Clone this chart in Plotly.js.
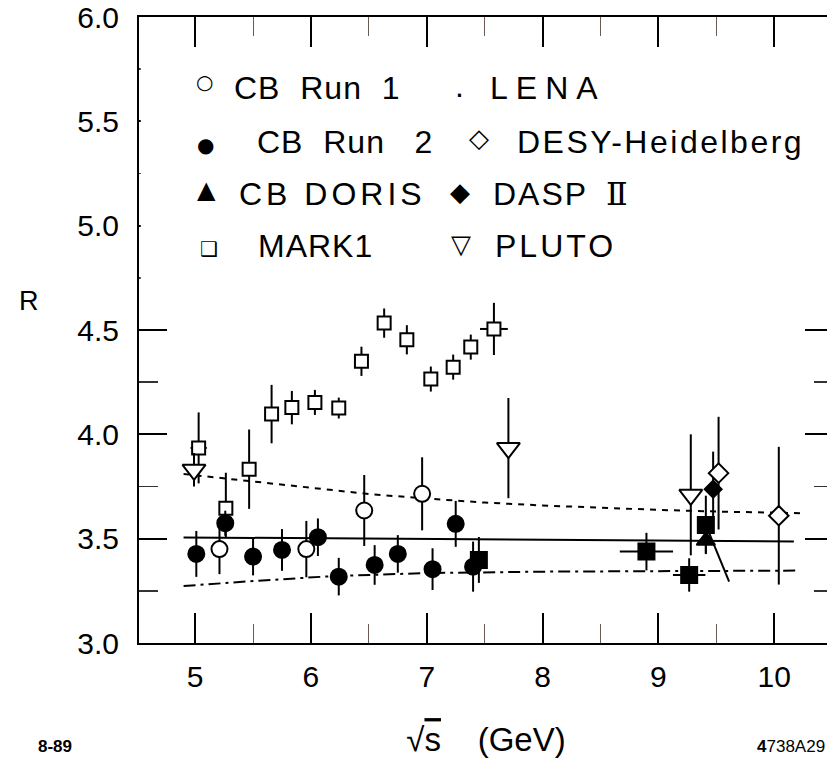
<!DOCTYPE html>
<html>
<head>
<meta charset="utf-8">
<script src="https://cdn.plot.ly/plotly-3.0.1.min.js"></script>
<style>
  html, body { margin: 0; padding: 0; background: #fff; }
  #frame { width: 827px; height: 759px; overflow: hidden; }
  #chart { width: 860px; height: 759px; }
</style>
</head>
<body>
<div id="frame"><div id="chart"></div></div>
<script>
// R = sigma(e+e- -> hadrons) / sigma(mu mu) versus sqrt(s)

// Crystal Ball, run 1 (open circles)
const cb1X = [5.21, 5.96, 6.46, 6.96];
const cb1Y = [3.45, 3.45, 3.635, 3.715];
const cb1Err = [0.12, 0.135, 0.17, 0.175];

// Crystal Ball, run 2 (filled circles)
const cb2X = [5.01, 5.26, 5.50, 5.75, 6.06, 6.24, 6.55, 6.75, 7.05, 7.25, 7.40];
const cb2Y = [3.427, 3.574, 3.414, 3.446, 3.507, 3.318, 3.374, 3.427, 3.354, 3.571, 3.366];
const cb2Err = [0.11, 0.06, 0.09, 0.10, 0.09, 0.09, 0.095, 0.09, 0.10, 0.11, 0.12];

// Crystal Ball at DORIS (filled triangle)
const dorisX = [9.41];
const dorisY = [3.49];
const dorisErr = [0.06];

// MARK I (open squares)
const mark1X = [5.03, 5.265, 5.466, 5.66, 5.835, 6.034, 6.24, 6.436, 6.632, 6.828, 7.035, 7.228, 7.38, 7.58];
const mark1Y = [3.935, 3.646, 3.833, 4.097, 4.128, 4.153, 4.126, 4.35, 4.533, 4.453, 4.265, 4.322, 4.418, 4.505];
const mark1ErrUp = [0.17, 0.17, 0.19, 0.14, 0.08, 0.06, 0.05, 0.07, 0.07, 0.07, 0.06, 0.06, 0.06, 0.125];
const mark1ErrDown = [0.17, 0.14, 0.19, 0.14, 0.08, 0.06, 0.05, 0.07, 0.07, 0.07, 0.06, 0.06, 0.06, 0.125];
const mark1BinHalf = [0.07, 0, 0, 0, 0, 0, 0, 0, 0, 0, 0, 0, 0, 0.12];

// LENA (filled squares)
const lenaX = [7.45, 8.897, 9.266, 9.41];
const lenaY = [3.398, 3.438, 3.326, 3.566];
const lenaErr = [0.11, 0.09, 0.08, 0.14];
const lenaBinHalf = [0, 0.23, 0.14, 0];

// DESY-Heidelberg (open diamonds)
const desyX = [9.52, 10.04];
const desyY = [3.814, 3.61];
const desyErr = [0.27, 0.33];

// DASP II (filled diamond)
const daspX = [9.473];
const daspY = [3.737];
const daspErr = [0.18];

// PLUTO (open down-triangles)
const plutoX = [4.99, 7.705, 9.28];
const plutoY = [3.83, 3.934, 3.71];
const plutoErr = [0.08, 0.24, 0.29];

// Reference curves
const qcdDotX = [4.9, 5.5, 6.0, 6.5, 7.0, 7.5, 8.0, 8.5, 9.0, 9.5, 10.25];
const qcdDotY = [3.81, 3.775, 3.745, 3.714, 3.692, 3.673, 3.659, 3.647, 3.638, 3.630, 3.622];
const solidX = [4.9, 10.17];
const solidY = [3.506, 3.487];
const dashDotX = [4.9, 5.5, 6.2, 7.0, 8.0, 9.0, 10.22];
const dashDotY = [3.273, 3.297, 3.321, 3.335, 3.342, 3.345, 3.347];
const slopeX = [9.439, 9.611];
const slopeY = [3.526, 3.294];

// Axis ticks
const xTickVals = [5, 6, 7, 8, 9, 10];
const yTickVals = [3.0, 3.5, 4.0, 4.5, 5.0, 5.5, 6.0];

const INK = '#000';

function errBars(up, down) {
  const e = {type: 'data', array: up, visible: true, color: INK, thickness: 2, width: 0};
  if (down) { e.symmetric = false; e.arrayminus = down; }
  return e;
}

function points(name, x, y, symbol, size, fill, ey, ex) {
  const t = {
    type: 'scatter', mode: 'markers', name: name, x: x, y: y,
    marker: {symbol: symbol, size: size, color: fill, line: {color: INK, width: 2}},
    error_y: ey, showlegend: false, cliponaxis: false
  };
  if (ex) t.error_x = ex;
  return t;
}

function curve(name, x, y, dash) {
  return {type: 'scatter', mode: 'lines', name: name, x: x, y: y,
          line: {color: INK, width: 2, dash: dash}, showlegend: false};
}

const traces = [
  curve('dotted', qcdDotX, qcdDotY, '6px,6px'),
  curve('solid', solidX, solidY, 'solid'),
  curve('dash-dot', dashDotX, dashDotY, '12px,5px,3px,5px'),
  curve('slope', slopeX, slopeY, 'solid'),
  points('MARK1', mark1X, mark1Y, 'square', 13, '#fff', errBars(mark1ErrUp, mark1ErrDown), errBars(mark1BinHalf)),
  points('PLUTO', plutoX, plutoY, 'triangle-down', 20, '#fff', errBars(plutoErr)),
  points('CB Run 1', cb1X, cb1Y, 'circle', 16, '#fff', errBars(cb1Err)),
  points('CB Run 2', cb2X, cb2Y, 'circle', 16, INK, errBars(cb2Err)),
  points('LENA', lenaX, lenaY, 'square', 16, INK, errBars(lenaErr), errBars(lenaBinHalf)),
  points('CB DORIS', dorisX, dorisY, 'triangle-up', 16, INK, errBars(dorisErr)),
  points('DASP II', daspX, daspY, 'diamond', 13, INK, errBars(daspErr)),
  points('DESY-Heidelberg', desyX, desyY, 'diamond', 15, '#fff', errBars(desyErr))
];

// Plot-area geometry in pixels, used to place the key and the footnotes
const M = {l: 139, r: 27, t: 17, b: 116};
const FIG_W = 860, FIG_H = 759;
const PW = FIG_W - M.l - M.r, PH = FIG_H - M.t - M.b;
const px = v => (v - M.l) / PW;
const py = v => (M.t + PH - v) / PH;

const KEY_FONT = {family: 'Liberation Sans, Arial, sans-serif', size: 32, color: INK};
const SYM_FONT = {family: 'DejaVu Sans, sans-serif', size: 22, color: INK};

function label(text, x, y, font, anchor) {
  return {text: text, xref: 'paper', yref: 'paper', x: px(x), y: py(y),
          xanchor: anchor || 'left', yanchor: 'middle', showarrow: false, font: font};
}
const sp = n => '\u00a0'.repeat(n);
const spaced = (s, ls) => '<span style="letter-spacing:' + ls + 'px">' + s + '</span>';
const roman2 = '<span style="font-family:\'DejaVu Serif\', serif">\u2161</span>';

const annotations = [
  // key, left column
  label('\u25CB', 204, 82, Object.assign({}, SYM_FONT, {size: 20}), 'center'),
  label(spaced('CB' + sp(2) + 'Run' + sp(2) + '1', 1), 232, 88, KEY_FONT),
  label('\u25CF', 205, 145, Object.assign({}, SYM_FONT, {size: 20}), 'center'),
  label(spaced('CB' + sp(2) + 'Run' + sp(3) + '2', 1), 255, 142, KEY_FONT),
  label('\u25B2', 206, 190, Object.assign({}, SYM_FONT, {size: 24}), 'center'),
  label(spaced('CB' + sp(1) + 'DORIS', 4), 237, 194, KEY_FONT),
  label('\u2751', 209, 249, Object.assign({}, SYM_FONT, {size: 20}), 'center'),
  label(spaced('MARK1', 1), 256, 246, KEY_FONT),
  // key, right column
  label('.', 459, 86, KEY_FONT, 'center'),
  label(spaced('LENA', 8), 488, 88, KEY_FONT),
  label('\u25C7', 479, 138, Object.assign({}, SYM_FONT, {size: 26}), 'center'),
  label(spaced('DESY-Heidelberg', 2.5), 515, 142, KEY_FONT),
  label('\u25C6', 460, 192, Object.assign({}, SYM_FONT, {size: 26}), 'center'),
  label(spaced('DASP', 2) + sp(2) + roman2, 491, 194, KEY_FONT),
  label('\u25BD', 461, 244, Object.assign({}, SYM_FONT, {size: 26}), 'center'),
  label(spaced('PLUTO', 3), 493, 246, KEY_FONT),
  // axis name and footnotes
  label('R', 29, 301, {family: 'Liberation Sans, Arial, sans-serif', size: 27, color: INK}, 'center'),
  label('<b>8-89</b>', 55, 746, {family: 'Liberation Sans Narrow, Liberation Sans, sans-serif', size: 17, color: INK}, 'center'),
  label('<b>4</b>738A29', 755, 746, {family: 'Liberation Sans Narrow, Liberation Sans, sans-serif', size: 17, color: INK})
];

const layout = {
  width: FIG_W, height: FIG_H,
  margin: M,
  paper_bgcolor: '#fff', plot_bgcolor: '#fff',
  showlegend: false,
  xaxis: {
    range: [4.515, 4.515 + PW / 115.8],
    tickmode: 'array', tickvals: xTickVals,
    ticks: 'inside', ticklen: 30, tickwidth: 2, tickcolor: INK,
    minor: {dtick: 0.5, tick0: 4.5, ticks: 'inside', ticklen: 19, tickwidth: 1, tickcolor: '#6b5a55'},
    showline: true, linewidth: 2, linecolor: INK, mirror: 'ticks',
    showgrid: false, zeroline: false,
    tickfont: {family: 'Liberation Sans, Arial, sans-serif', size: 30, color: INK},
    ticklabelstandoff: 6,
    title: {
      text: '\u221A<span style="text-decoration:overline">s</span>' + sp(4) + '(GeV)',
      font: {family: 'Liberation Sans, Arial, sans-serif', size: 33, color: INK},
      standoff: 36
    },
    automargin: false
  },
  yaxis: {
    range: [3, 6],
    tickmode: 'array', tickvals: yTickVals, tickformat: '.1f',
    ticks: 'inside', ticklen: 28, tickwidth: 2, tickcolor: INK,
    minor: {dtick: 0.25, tick0: 3, ticks: 'inside', ticklen: 19, tickwidth: 1.5, tickcolor: '#333'},
    showline: true, linewidth: 2, linecolor: INK, mirror: 'ticks',
    showgrid: false, zeroline: false,
    tickfont: {family: 'Liberation Sans, Arial, sans-serif', size: 30, color: INK},
    ticklabelstandoff: 12,
    automargin: false
  },
  shapes: [
    // the key panel hides the tick marks behind it
    {type: 'rect', xref: 'x', yref: 'y', layer: 'above',
     x0: 4.53, x1: 10.7, y0: 4.655, y1: 5.83,
     fillcolor: '#fff', line: {width: 0}}
  ],
  annotations: annotations
};

Plotly.newPlot('chart', traces, layout, {displayModeBar: false, staticPlot: true});
</script>
</body>
</html>
